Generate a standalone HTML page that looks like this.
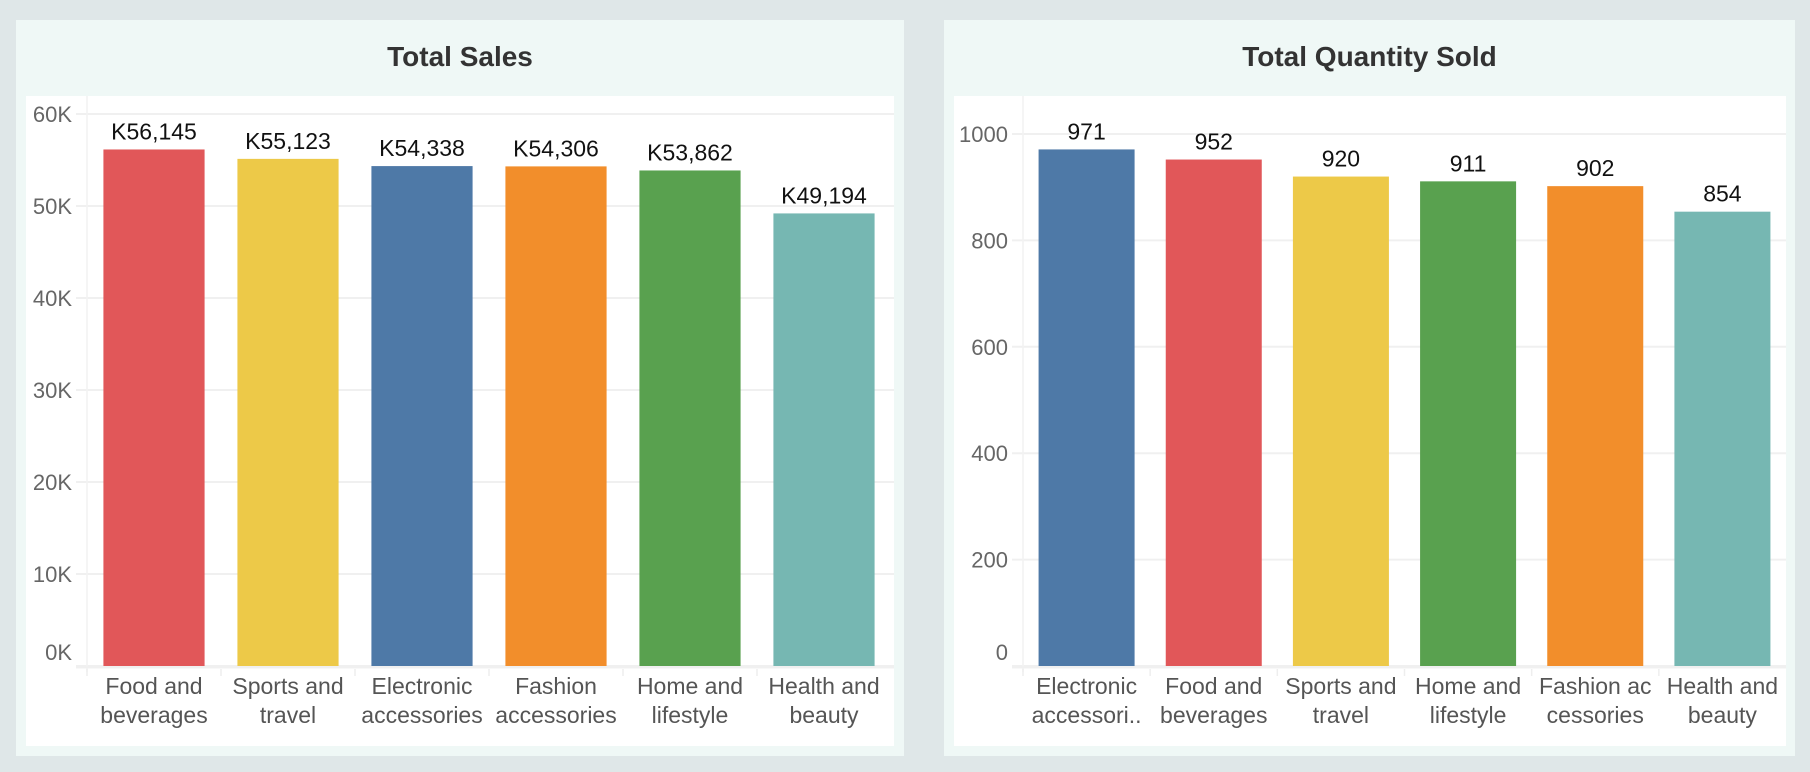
<!DOCTYPE html>
<html><head><meta charset="utf-8">
<style>
html,body{margin:0;padding:0;background:#dfe7e8;width:1810px;height:772px;overflow:hidden;font-family:"Liberation Sans",Arial,sans-serif}
.panel{position:absolute;background:#eff8f6}
.title{position:absolute;left:0;right:0;text-align:center;font-weight:bold;font-size:28px;color:#333}
.plot{position:absolute;background:#fff}
svg{position:absolute;left:0;top:0}
</style></head>
<body>
<div class="panel" style="left:16px;top:20px;width:888px;height:736px">
  <div class="title" style="top:21px">Total Sales</div>
  <div class="plot" style="left:10px;top:76px;width:868px;height:650px"></div>
</div>
<div class="panel" style="left:944px;top:20px;width:851px;height:736px">
  <div class="title" style="top:21px">Total Quantity Sold</div>
  <div class="plot" style="left:10px;top:76px;width:832px;height:650px"></div>
</div>
<svg id="chart" width="1810" height="772"></svg>
<script>
const salesCategories = [["Food and","beverages"],["Sports and","travel"],["Electronic","accessories"],["Fashion","accessories"],["Home and","lifestyle"],["Health and","beauty"]];
const salesValues = [56145,55123,54338,54306,53862,49194];
const salesColors = ["#e15759","#edc948","#4e79a7","#f28e2b","#59a14f","#76b7b2"];
const salesTicks = [0,10000,20000,30000,40000,50000,60000];
const salesTickLabels = ["0K","10K","20K","30K","40K","50K","60K"];

const qtyCategories = [["Electronic","accessori.."],["Food and","beverages"],["Sports and","travel"],["Home and","lifestyle"],["Fashion ac","cessories"],["Health and","beauty"]];
const qtyValues = [971,952,920,911,902,854];
const qtyColors = ["#4e79a7","#e15759","#edc948","#59a14f","#f28e2b","#76b7b2"];
const qtyTicks = [0,200,400,600,800,1000];
const qtyTickLabels = ["0","200","400","600","800","1000"];

const NS="http://www.w3.org/2000/svg";
const svg=document.getElementById('chart');
function mk(tag,attrs,text){const e=document.createElementNS(NS,tag);for(const k in attrs)e.setAttribute(k,attrs[k]);if(text!==undefined)e.textContent=text;svg.appendChild(e);return e;}

function drawChart(o){
  const y=v=>o.y0-(v-o.vmin)/(o.vmax-o.vmin)*(o.y0-o.y1);
  const band=(o.xr-o.xl)/o.cats.length;
  const bw=band*0.755;
  o.ticks.forEach((t,i)=>{
    const g=mk('line',{x1:o.xl-11,x2:o.gridEnd,y1:y(t),y2:y(t),stroke:'#f0f0f0','stroke-width':2});
    
    
    const tl=mk('text',{x:o.xl-15,y:y(t)+(i===0?-6:8),'text-anchor':'end','font-size':22,fill:'#666'},o.tickLabels[i]);
    
    
  });
  const ax=mk('line',{x1:o.xl,x2:o.xl,y1:o.top,y2:o.y0+6,stroke:'#f2f2f2','stroke-width':1.5});
  
  
  const bx=mk('line',{x1:o.xl-11,x2:o.gridEnd,y1:o.y0+1.5,y2:o.y0+1.5,stroke:'#f0f0f0','stroke-width':2});
  
  
  o.vals.forEach((v,i)=>{
    const cx=o.xl+band*(i+0.5);
    const tk=mk('line',{x1:o.xl+band*i,x2:o.xl+band*i,y1:o.y0+3,y2:o.y0+10,stroke:'#eee','stroke-width':1.5});
    
    
    const r=mk('rect',{x:cx-bw/2,y:y(v),width:bw,height:o.y0-y(v),fill:o.colors[i]});
    
    
    const lb=mk('text',{x:cx,y:y(v)-10,'text-anchor':'middle','font-size':23,fill:'#111'},o.fmt(v));
    
    
    o.cats[i].forEach((line,j)=>{
      const cl=mk('text',{x:cx,y:o.y0+28+j*29,'text-anchor':'middle','font-size':23,fill:'#555'},line);
      
      
    });
  });
}
drawChart({prefix:'sales',cats:salesCategories,vals:salesValues,colors:salesColors,ticks:salesTicks,tickLabels:salesTickLabels,
  vmin:0,vmax:60000,y0:666,y1:114,xl:87,xr:891,gridEnd:894,top:96,fmt:v=>'K'+v.toLocaleString('en-US')});
drawChart({prefix:'quantity',cats:qtyCategories,vals:qtyValues,colors:qtyColors,ticks:qtyTicks,tickLabels:qtyTickLabels,
  vmin:0,vmax:1000,y0:666,y1:134,xl:1023,xr:1786,gridEnd:1786,top:96,fmt:v=>String(v)});
</script>
</body></html>
